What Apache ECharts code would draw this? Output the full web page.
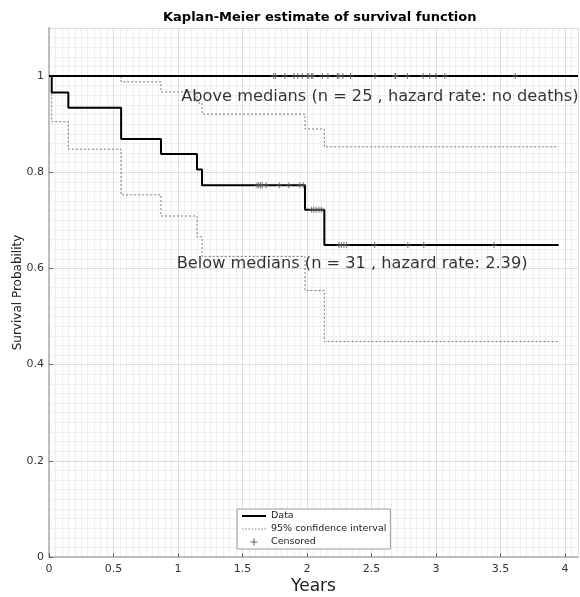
<!DOCTYPE html>
<html>
<head>
<meta charset="utf-8">
<script src="https://cdn.jsdelivr.net/npm/echarts@6/dist/echarts.min.js"></script>
<style>
  html, body { margin: 0; padding: 0; background: #fff; }
  #chart_block { width: 580px; height: 597px; }
</style>
</head>
<body>
<div id="chart_block"></div>
<script>
// below medians group: step times and survival
var belowTimes = [0, 0.021, 0.150, 0.559, 0.868, 1.147, 1.186, 1.984, 2.134, 3.950];
var belowSurv = [1, 0.966, 0.934, 0.869, 0.838, 0.806, 0.773, 0.722, 0.649, 0.649];
var lowerCI = [1, 0.905, 0.848, 0.753, 0.709, 0.666, 0.625, 0.554, 0.448, 0.448];
var upperTimes = [0, 0.559, 0.868, 1.147, 1.186, 1.984, 2.134, 3.950];
var upperCI = [1, 0.988, 0.967, 0.944, 0.921, 0.890, 0.853, 0.853];

var belowCensorTimes = [1.613, 1.626, 1.639, 1.652, 1.683, 1.784, 1.859, 1.944, 1.970,
  2.035, 2.053, 2.071, 2.092, 2.113,
  2.247, 2.266, 2.286, 2.307, 2.524, 2.781, 2.905, 3.449];
var belowCensorSurv = [0.773, 0.773, 0.773, 0.773, 0.773, 0.773, 0.773, 0.773, 0.773,
  0.722, 0.722, 0.722, 0.722, 0.722,
  0.649, 0.649, 0.649, 0.649, 0.649, 0.649, 0.649, 0.649];

// above medians group: no deaths
var aboveTimes = [0, 4.1];
var aboveSurv = [1, 1];
var aboveCensorTimes = [1.742, 1.755, 1.828, 1.898, 1.929, 1.963, 2.002, 2.014, 2.035, 2.045,
  2.118, 2.162, 2.235, 2.247, 2.278, 2.338, 2.527, 2.682, 2.687, 2.778,
  2.899, 2.951, 2.998, 3.068, 3.614];

var notes = ['Above medians (n = 25 , hazard rate: no deaths)', 'Below medians (n = 31 , hazard rate: 2.39)'];
var notePos = [[1.025, 0.958], [0.99, 0.609]];

var xTicks = [0, 0.5, 1, 1.5, 2, 2.5, 3, 3.5, 4];

function zip(a, b) {
  return a.map(function (v, i) { return [v, b[i]]; });
}

var FONT = 'DejaVu Sans';
var plusPath = 'path://M2.5,0h1v2.5h2.5v1h-2.5v2.5h-1v-2.5h-2.5v-1h2.5z';
// legend swatches
var solidIcon = 'path://M0,0h24v2h-24z';
var dottedIcon = 'path://M0,0h1.5v1h-1.5zM3,0h1.5v1h-1.5zM6,0h1.5v1h-1.5zM9,0h1.5v1h-1.5zM12,0h1.5v1h-1.5zM15,0h1.5v1h-1.5zM18,0h1.5v1h-1.5zM21,0h1.5v1h-1.5z';

var chartDom = document.getElementById('chart_block');
var myChart = echarts.init(chartDom);

var lineStyleData = { color: '#000', width: 2 };
var lineStyleCI = { color: '#777', width: 1, type: [2, 2] };

var options = {
  animation: false,
  backgroundColor: '#fff',
  title: {
    text: 'Kaplan-Meier estimate of survival function',
    left: 163,
    top: 11,
    padding: 0,
    textStyle: { fontFamily: FONT, fontSize: 13, fontWeight: 'bold', color: '#000' }
  },
  legend: {
    orient: 'vertical',
    left: 237,
    top: 509,
    padding: [2, 4, 2, 5],
    itemGap: 3,
    itemWidth: 24,
    itemHeight: 7,
    backgroundColor: '#fff',
    borderColor: '#999',
    borderWidth: 1,
    borderRadius: 0,
    textStyle: { fontFamily: FONT, fontSize: 9.5, color: '#222' },
    data: [
      { name: 'Data', icon: solidIcon, itemStyle: { color: '#000' } },
      { name: '95% confidence interval', icon: dottedIcon, itemStyle: { color: '#888' } },
      { name: 'Censored', icon: plusPath, itemStyle: { color: '#444' } }
    ]
  },
  grid: { left: 49, right: 2, top: 28, bottom: 40, outerBoundsMode: 'none', containLabel: false },
  xAxis: [
    {
      type: 'value', min: 0, max: 4.1, interval: 0.5, z: 2,
      name: 'Years', nameLocation: 'middle', nameGap: 21, nameMoveOverlap: false,
      nameTextStyle: { fontFamily: FONT, fontSize: 17, color: '#222' },
      axisLine: { show: true, lineStyle: { color: '#bdbdbd', width: 2 } },
      axisTick: { inside: true, length: 4, lineStyle: { color: '#666' } },
      axisLabel: {
        margin: 7, fontFamily: FONT, fontSize: 11, color: '#333', showMaxLabel: false,
        formatter: function (v) { return xTicks.indexOf(v) >= 0 ? String(v) : ''; }
      },
      splitLine: { show: true, lineStyle: { color: '#dcdcdc', width: 1 } }
    },
    {
      type: 'value', min: 0, max: 4.1, interval: 0.05, z: 1,
      axisLine: { show: false }, axisTick: { show: false }, axisLabel: { show: false },
      splitLine: { show: true, lineStyle: { color: '#eeeeee', width: 1 } }
    }
  ],
  yAxis: [
    {
      type: 'value', min: 0, max: 1.1, interval: 0.2, z: 2,
      name: 'Survival Probability', nameLocation: 'middle', nameGap: 25, nameMoveOverlap: false,
      nameTextStyle: { fontFamily: FONT, fontSize: 12, color: '#222' },
      axisLine: { show: true, lineStyle: { color: '#bdbdbd', width: 2 } },
      axisTick: { inside: true, length: 4, lineStyle: { color: '#666' } },
      axisLabel: { margin: 5, fontFamily: FONT, fontSize: 11, color: '#333', showMaxLabel: false },
      splitLine: { show: true, lineStyle: { color: '#dcdcdc', width: 1 } }
    },
    {
      type: 'value', min: 0, max: 1.1, interval: 0.02, z: 1, position: 'left',
      axisLine: { show: false }, axisTick: { show: false }, axisLabel: { show: false },
      splitLine: { show: true, lineStyle: { color: '#eeeeee', width: 1 } }
    }
  ],
  series: [
    {
      name: '95% confidence interval', type: 'line', step: 'end', color: '#888',
      data: zip(belowTimes, lowerCI), symbol: 'none', lineStyle: lineStyleCI, z: 3
    },
    {
      name: '95% confidence interval', type: 'line', step: 'end', color: '#888',
      data: zip(upperTimes, upperCI), symbol: 'none', lineStyle: lineStyleCI, z: 3
    },
    {
      name: 'Data', type: 'line', step: 'end', color: '#000',
      data: zip(belowTimes, belowSurv), symbol: 'none', lineStyle: lineStyleData, z: 4
    },
    {
      name: 'Data', type: 'line', step: 'end', color: '#000',
      data: zip(aboveTimes, aboveSurv), symbol: 'none', lineStyle: lineStyleData, z: 4
    },
    {
      name: 'Censored', type: 'scatter', symbol: plusPath, symbolSize: 6,
      itemStyle: { color: '#555' }, z: 5,
      data: zip(belowCensorTimes, belowCensorSurv)
    },
    {
      name: 'Censored', type: 'scatter', symbol: plusPath, symbolSize: 6,
      itemStyle: { color: '#555' }, z: 5,
      data: aboveCensorTimes.map(function (t) { return [t, 1]; })
    },
    {
      name: 'notes', type: 'scatter', symbolSize: 0, silent: true, z: 6,
      data: notePos,
      label: {
        show: true, position: 'right', distance: 0,
        fontFamily: FONT, fontSize: 16.2, color: '#000',
        formatter: function (p) { return notes[p.dataIndex]; }
      }
    }
  ]
};

myChart.setOption(options, true);
</script>
</body>
</html>
